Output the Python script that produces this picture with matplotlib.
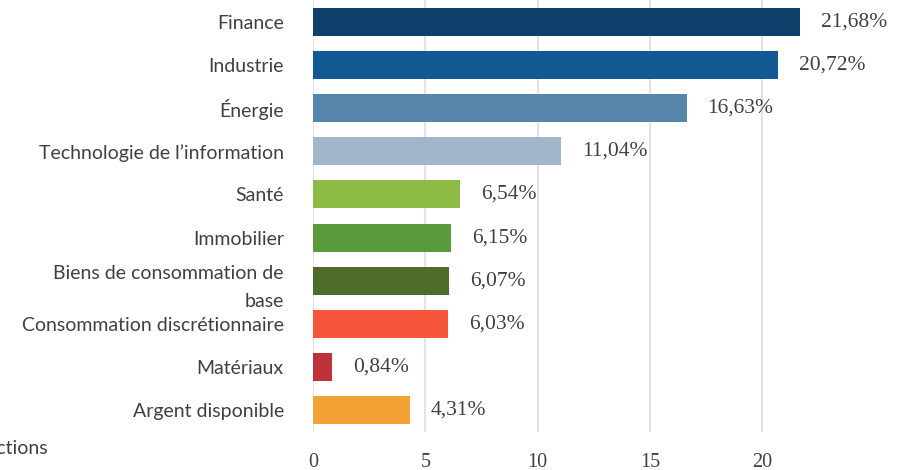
import matplotlib
matplotlib.use("Agg")
import matplotlib.pyplot as plt
import numpy as np

categories = ["Finance", "Industrie", "Énergie", "Technologie de l’information", "Santé",
              "Immobilier", "Biens de consommation de\nbase", "Consommation discrétionnaire",
              "Matériaux", "Argent disponible"]
values = [21.68, 20.72, 16.63, 11.04, 6.54, 6.15, 6.07, 6.03, 0.84, 4.31]
labels = ["21,68%", "20,72%", "16,63%", "11,04%", "6,54%", "6,15%", "6,07%", "6,03%", "0,84%", "4,31%"]
colors = ["#0f406c", "#135a94", "#5585ab", "#a3b5ca", "#8bbb45",
          "#5b9a3c", "#4f6b2a", "#f4553b", "#c0323a", "#f4a235"]
xticks = [0, 5, 10, 15, 20]

fig = plt.figure(figsize=(9.06, 4.70), dpi=100)
ax = fig.add_axes([313 / 906, 1 - 432 / 470, (906 - 313) / 906, 432 / 470])

y = np.arange(len(categories))
ax.barh(y, values, height=0.65, color=colors, zorder=2)
ax.set_ylim(len(categories) - 0.5, -0.5)
ax.set_xlim(0, 26.4)

for yi, v, lab in zip(y, values, labels):
    ax.annotate(lab, (v, yi), xytext=(15, 0), textcoords="offset points",
                va="center", ha="left", fontsize=15.5, family="Liberation Serif", color="#404040")

ax.set_yticks(y)
ax.set_yticklabels(categories, fontsize=14, family="Lato", color="#404040", linespacing=1.75)
ax.set_xticks(xticks)
ax.set_xticklabels([str(t) for t in xticks], fontsize=14.5, family="Liberation Serif", color="#404040")
ax.tick_params(axis="y", length=0, pad=21)
ax.tick_params(axis="x", length=0, pad=15)
ax.grid(axis="x", color="#e3e3e3", linewidth=1.5, zorder=0)
ax.set_axisbelow(True)
for s in ax.spines.values():
    s.set_visible(False)

fig.text(-0.018, 1 - 448 / 470, "Actions", fontsize=14, family="Lato", color="#404040", va="center")

fig.savefig("out.png", dpi=100)
